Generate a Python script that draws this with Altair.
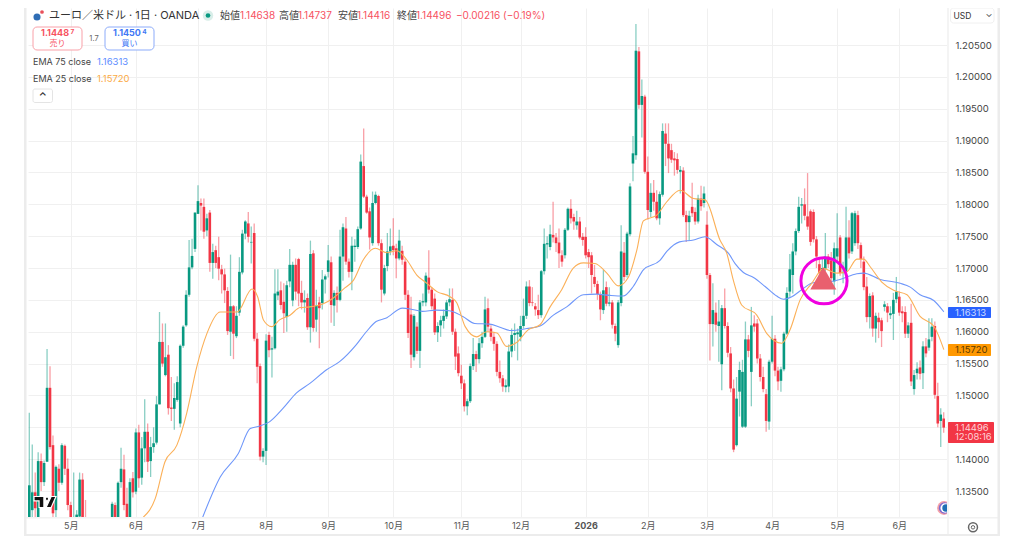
import altair as alt
import pandas as pd

# Daily candles as (open, high, low, close), grouped by calendar month
apr_25 = [
(1.1300,1.1473,1.1290,1.1359),(1.1320,1.1423,1.1305,1.1348),(1.1348,1.1379,1.1300,1.1323),(1.1300,1.1411,1.1295,1.1397),
(1.1397,1.1409,1.1350,1.1364),(1.1364,1.1398,1.1358,1.1394),(1.1396,1.1573,1.1396,1.1512),(1.1512,1.1546,1.1415,1.1419),
(1.1422,1.1437,1.1305,1.1315),(1.1320,1.1390,1.1300,1.1388),(1.1385,1.1392,1.1350,1.1363),(1.1363,1.1425,1.1360,1.1422),
(1.1421,1.1423,1.1375,1.1385),(1.1385,1.1401,1.1320,1.1328)]
may_25 = [
(1.1328,1.1333,1.1295,1.1305),(1.1290,1.1379,1.1285,1.1300),(1.1300,1.1320,1.1290,1.1313),(1.1310,1.1379,1.1305,1.1368),
(1.1368,1.1378,1.1300,1.1305),(1.1300,1.1336,1.1270,1.1280),(1.1280,1.1290,1.1262,1.1270),(1.1270,1.1282,1.1255,1.1262),
(1.1262,1.1280,1.1250,1.1275),(1.1275,1.1288,1.1265,1.1280),(1.1280,1.1288,1.1268,1.1272),(1.1272,1.1285,1.1262,1.1278),
(1.1278,1.1290,1.1270,1.1285),(1.1285,1.1292,1.1272,1.1280),(1.1300,1.1333,1.1290,1.1330),(1.1328,1.1332,1.1290,1.1300),
(1.1300,1.1365,1.1295,1.1363),(1.1364,1.1418,1.1355,1.1385),(1.1384,1.1407,1.1320,1.1328),(1.1330,1.1355,1.1295,1.1305),
(1.1305,1.1370,1.1295,1.1364),(1.1370,1.1380,1.1340,1.1348)]
jun_25 = [
(1.1349,1.1448,1.1345,1.1442),(1.1442,1.1454,1.1355,1.1370),(1.1371,1.1435,1.1360,1.1417),(1.1417,1.1494,1.1395,1.1443),
(1.1443,1.1456,1.1380,1.1396),(1.1397,1.1435,1.1372,1.1419),(1.1419,1.1450,1.1410,1.1425),(1.1426,1.1499,1.1423,1.1486),
(1.1486,1.1631,1.1486,1.1584),(1.1584,1.1613,1.1545,1.1550),(1.1532,1.1613,1.1530,1.1560),(1.1564,1.1579,1.1470,1.1480),
(1.1481,1.1529,1.1460,1.1479),(1.1479,1.1519,1.1446,1.1496),(1.1493,1.1530,1.1490,1.1521),(1.1456,1.1580,1.1450,1.1578),
(1.1578,1.1610,1.1575,1.1608),(1.1610,1.1665,1.1608,1.1658),(1.1658,1.1744,1.1655,1.1701),(1.1701,1.1746,1.1698,1.1719),
(1.1730,1.1787,1.1725,1.1787)]
jul_25 = [
(1.1785,1.1830,1.1785,1.1805),(1.1802,1.1809,1.1759,1.1798),(1.1796,1.1809,1.1746,1.1757),(1.1759,1.1785,1.1750,1.1778),
(1.1787,1.1791,1.1694,1.1708),(1.1708,1.1738,1.1683,1.1725),(1.1728,1.1735,1.1700,1.1708),(1.1717,1.1749,1.1681,1.1699),
(1.1698,1.1705,1.1660,1.1690),(1.1690,1.1699,1.1645,1.1665),(1.1664,1.1670,1.1595,1.1601),(1.1600,1.1721,1.1562,1.1640),
(1.1640,1.1642,1.1557,1.1597),(1.1593,1.1640,1.1590,1.1625),(1.1630,1.1717,1.1625,1.1694),(1.1693,1.1760,1.1690,1.1754),
(1.1754,1.1775,1.1745,1.1773),(1.1770,1.1788,1.1740,1.1749),(1.1740,1.1765,1.1707,1.1741),(1.1755,1.1770,1.1585,1.1589),
(1.1589,1.1598,1.1519,1.1545),(1.1546,1.1550,1.1398,1.1404),(1.1404,1.1417,1.1395,1.1413)]
aug_25 = [
(1.1413,1.1596,1.1391,1.1586),(1.1595,1.1600,1.1560,1.1571),(1.1572,1.1592,1.1528,1.1574),(1.1574,1.1698,1.1572,1.1660),
(1.1657,1.1698,1.1650,1.1663),(1.1665,1.1679,1.1635,1.1642),(1.1647,1.1676,1.1598,1.1629),(1.1623,1.1680,1.1600,1.1673),
(1.1679,1.1730,1.1670,1.1705),(1.1649,1.1710,1.1640,1.1705),(1.1705,1.1715,1.1650,1.1663),(1.1714,1.1716,1.1640,1.1660),
(1.1661,1.1680,1.1635,1.1646),(1.1646,1.1665,1.1630,1.1650),(1.1653,1.1660,1.1603,1.1607),(1.1607,1.1743,1.1583,1.1722),
(1.1723,1.1728,1.1600,1.1606),(1.1619,1.1666,1.1600,1.1641),(1.1646,1.1655,1.1574,1.1637),(1.1645,1.1697,1.1635,1.1682),
(1.1682,1.1690,1.1660,1.1687)]
sep_25 = [
(1.1694,1.1736,1.1685,1.1712),(1.1709,1.1718,1.1614,1.1642),(1.1641,1.1665,1.1609,1.1661),(1.1661,1.1671,1.1630,1.1650),
(1.1650,1.1760,1.1648,1.1718),(1.1718,1.1770,1.1680,1.1764),(1.1762,1.1780,1.1705,1.1710),(1.1710,1.1715,1.1685,1.1694),
(1.1694,1.1749,1.1665,1.1735),(1.1733,1.1745,1.1710,1.1735),(1.1733,1.1765,1.1730,1.1761),(1.1762,1.1878,1.1760,1.1867),
(1.1860,1.1919,1.1810,1.1812),(1.1812,1.1815,1.1785,1.1787),(1.1789,1.1795,1.1729,1.1748),(1.1739,1.1820,1.1735,1.1802),
(1.1802,1.1820,1.1800,1.1815),(1.1813,1.1815,1.1735,1.1739),(1.1739,1.1745,1.1646,1.1666),(1.1660,1.1705,1.1657,1.1700),
(1.1703,1.1755,1.1695,1.1726),(1.1726,1.1762,1.1720,1.1734)]
oct_25 = [
(1.1735,1.1778,1.1720,1.1728),(1.1731,1.1738,1.1684,1.1715),(1.1715,1.1760,1.1712,1.1743),(1.1727,1.1735,1.1705,1.1713),
(1.1710,1.1715,1.1650,1.1658),(1.1658,1.1665,1.1590,1.1598),(1.1627,1.1655,1.1543,1.1564),(1.1560,1.1628,1.1555,1.1625),
(1.1608,1.1615,1.1565,1.1570),(1.1570,1.1650,1.1543,1.1646),(1.1646,1.1660,1.1640,1.1648),(1.1646,1.1693,1.1640,1.1688),
(1.1685,1.1728,1.1660,1.1666),(1.1666,1.1670,1.1635,1.1640),(1.1652,1.1660,1.1595,1.1599),(1.1599,1.1615,1.1584,1.1609),
(1.1610,1.1625,1.1592,1.1618),(1.1617,1.1635,1.1605,1.1625),(1.1624,1.1650,1.1620,1.1646),(1.1646,1.1668,1.1640,1.1651),
(1.1650,1.1668,1.1595,1.1600),(1.1600,1.1605,1.1540,1.1561),(1.1566,1.1577,1.1530,1.1535)]
nov_25 = [
(1.1531,1.1548,1.1510,1.1519),(1.1519,1.1525,1.1475,1.1483),(1.1483,1.1495,1.1469,1.1491),(1.1491,1.1550,1.1488,1.1546),
(1.1546,1.1590,1.1540,1.1565),(1.1565,1.1570,1.1537,1.1557),(1.1557,1.1590,1.1550,1.1582),(1.1582,1.1600,1.1575,1.1592),
(1.1592,1.1655,1.1590,1.1635),(1.1637,1.1652,1.1600,1.1608),(1.1605,1.1610,1.1585,1.1592),(1.1592,1.1600,1.1570,1.1581),
(1.1581,1.1585,1.1530,1.1537),(1.1537,1.1555,1.1520,1.1527),(1.1527,1.1532,1.1506,1.1514),(1.1513,1.1525,1.1505,1.1516),
(1.1514,1.1580,1.1505,1.1569),(1.1569,1.1605,1.1560,1.1595),(1.1595,1.1613,1.1570,1.1598),(1.1596,1.1605,1.1555,1.1599)]
dec_25 = [
(1.1592,1.1625,1.1585,1.1609),(1.1609,1.1652,1.1605,1.1625),(1.1625,1.1679,1.1620,1.1671),(1.1671,1.1681,1.1640,1.1645),
(1.1646,1.1670,1.1640,1.1645),(1.1640,1.1645,1.1625,1.1635),(1.1634,1.1658,1.1620,1.1626),(1.1626,1.1697,1.1622,1.1695),
(1.1695,1.1762,1.1690,1.1738),(1.1737,1.1750,1.1715,1.1739),(1.1733,1.1768,1.1728,1.1753),(1.1752,1.1804,1.1740,1.1748),
(1.1748,1.1755,1.1725,1.1739),(1.1740,1.1762,1.1700,1.1723),(1.1720,1.1728,1.1702,1.1710),(1.1720,1.1763,1.1715,1.1760),
(1.1760,1.1795,1.1758,1.1793),(1.1793,1.1808,1.1770,1.1778),(1.1780,1.1785,1.1760,1.1773),(1.1767,1.1790,1.1760,1.1773),
(1.1773,1.1780,1.1745,1.1748),(1.1749,1.1755,1.1735,1.1744)]
jan_26 = [
(1.1749,1.1764,1.1715,1.1720),(1.1725,1.1730,1.1700,1.1717),(1.1720,1.1725,1.1660,1.1689),(1.1686,1.1705,1.1670,1.1675),
(1.1675,1.1680,1.1650,1.1659),(1.1658,1.1663,1.1618,1.1635),(1.1634,1.1697,1.1628,1.1665),(1.1670,1.1679,1.1640,1.1644),
(1.1644,1.1670,1.1640,1.1646),(1.1646,1.1650,1.1605,1.1611),(1.1609,1.1613,1.1585,1.1597),(1.1579,1.1650,1.1575,1.1646),
(1.1645,1.1767,1.1640,1.1726),(1.1724,1.1741,1.1680,1.1686),(1.1689,1.1757,1.1685,1.1754),(1.1753,1.1833,1.1750,1.1828),
(1.1864,1.1907,1.1836,1.1880),(1.1877,1.2083,1.1870,1.2041),(1.2040,1.2047,1.1950,1.1956),(1.1956,1.1996,1.1905,1.1970),
(1.1969,1.1972,1.1848,1.1851)]
feb_26 = [
(1.1851,1.1875,1.1776,1.1791),(1.1788,1.1833,1.1780,1.1818),(1.1818,1.1838,1.1790,1.1804),(1.1804,1.1822,1.1775,1.1778),
(1.1778,1.1820,1.1768,1.1816),(1.1815,1.1927,1.1812,1.1915),(1.1911,1.1927,1.1860,1.1895),(1.1895,1.1927,1.1849,1.1872),
(1.1885,1.1895,1.1865,1.1870),(1.1872,1.1882,1.1845,1.1869),(1.1871,1.1880,1.1848,1.1854),(1.1851,1.1860,1.1817,1.1854),
(1.1853,1.1858,1.1780,1.1783),(1.1783,1.1790,1.1741,1.1772),(1.1772,1.1790,1.1743,1.1782),(1.1796,1.1834,1.1780,1.1786),
(1.1788,1.1795,1.1768,1.1773),(1.1773,1.1815,1.1770,1.1809),(1.1809,1.1829,1.1790,1.1797),(1.1802,1.1828,1.1795,1.1817)]
mar_26 = [
(1.1768,1.1789,1.1683,1.1689),(1.1689,1.1692,1.1555,1.1612),(1.1612,1.1676,1.1577,1.1634),(1.1630,1.1646,1.1600,1.1611),
(1.1609,1.1650,1.1553,1.1616),(1.1549,1.1642,1.1508,1.1637),(1.1637,1.1668,1.1605,1.1609),(1.1609,1.1615,1.1560,1.1567),
(1.1566,1.1576,1.1505,1.1511),(1.1511,1.1525,1.1411,1.1415),(1.1422,1.1529,1.1420,1.1495),(1.1506,1.1553,1.1467,1.1540),
(1.1451,1.1556,1.1449,1.1537),(1.1451,1.1616,1.1449,1.1588),(1.1588,1.1595,1.1560,1.1570),(1.1537,1.1639,1.1483,1.1610),
(1.1613,1.1626,1.1600,1.1608),(1.1613,1.1620,1.1550,1.1558),(1.1558,1.1565,1.1522,1.1529),(1.1529,1.1545,1.1505,1.1510),
(1.1502,1.1510,1.1443,1.1460),(1.1459,1.1556,1.1446,1.1553)]
apr_26 = [
(1.1553,1.1625,1.1550,1.1589),(1.1589,1.1595,1.1530,1.1539),(1.1539,1.1545,1.1508,1.1522),(1.1523,1.1545,1.1506,1.1541),
(1.1541,1.1600,1.1538,1.1597),(1.1597,1.1670,1.1595,1.1661),(1.1663,1.1722,1.1655,1.1698),(1.1689,1.1739,1.1660,1.1726),
(1.1726,1.1762,1.1720,1.1758),(1.1758,1.1812,1.1755,1.1796),(1.1798,1.1810,1.1770,1.1800),(1.1800,1.1825,1.1775,1.1782),
(1.1781,1.1849,1.1760,1.1765),(1.1789,1.1792,1.1735,1.1741),(1.1788,1.1792,1.1740,1.1745),(1.1745,1.1750,1.1700,1.1718),
(1.1706,1.1715,1.1680,1.1692),(1.1692,1.1715,1.1680,1.1700),(1.1699,1.1755,1.1695,1.1718),(1.1718,1.1722,1.1700,1.1706),
(1.1712,1.1725,1.1670,1.1684),(1.1679,1.1740,1.1658,1.1731)]
may_26 = [
(1.1718,1.1786,1.1710,1.1731),(1.1748,1.1752,1.1688,1.1692),(1.1692,1.1710,1.1676,1.1694),(1.1694,1.1796,1.1690,1.1748),
(1.1748,1.1775,1.1715,1.1723),(1.1726,1.1788,1.1722,1.1786),(1.1739,1.1790,1.1735,1.1786),(1.1783,1.1790,1.1730,1.1739),
(1.1736,1.1740,1.1700,1.1714),(1.1710,1.1718,1.1665,1.1670),(1.1671,1.1686,1.1615,1.1623),(1.1623,1.1660,1.1605,1.1656),
(1.1657,1.1662,1.1592,1.1605),(1.1605,1.1630,1.1583,1.1625),(1.1622,1.1630,1.1590,1.1615),(1.1618,1.1622,1.1576,1.1601),
(1.1639,1.1648,1.1632,1.1643),(1.1640,1.1645,1.1615,1.1630),(1.1626,1.1640,1.1620,1.1629),(1.1628,1.1661,1.1587,1.1650),
(1.1651,1.1686,1.1645,1.1663)]
jun_26 = [
(1.1655,1.1663,1.1625,1.1630),(1.1632,1.1640,1.1615,1.1629),(1.1631,1.1640,1.1590,1.1597),(1.1597,1.1615,1.1590,1.1610),
(1.1614,1.1644,1.1515,1.1522),(1.1510,1.1540,1.1501,1.1532),(1.1535,1.1552,1.1525,1.1542),(1.1544,1.1555,1.1525,1.1534),
(1.1535,1.1585,1.1510,1.1577),(1.1577,1.1590,1.1560,1.1566),(1.1575,1.1621,1.1570,1.1588),(1.1592,1.1621,1.1585,1.1608),
(1.1609,1.1616,1.1495,1.1501),(1.1499,1.1520,1.1450,1.1456),(1.1460,1.1480,1.1419,1.1470),(1.14638,1.14737,1.14416,1.14496)]

# EMA readings: session position, value
ema75_pos = [58.4,64.3,70.4,74.4,77.6,81,85.5,90,94.5,100,104.5,110,113.5,116.8,120,125.7,129,132.4,137,141.5,146,150,155,158.5,161.9,167.5,172,176.5,181,186.6,191,195.6,200,203.4,206.8,212.4,214.7,219,223.7,227.6,231.5,235.5,237.7,240.5,243.9,247.8,251.7,254,256.8,260.7,264,268.6,273,278.7,281,286.6,293.3,296.7,300,304.6,308]
ema75_val = [1.1309,1.1372,1.1409,1.1448,1.1452,1.1459,1.1480,1.1504,1.1519,1.1540,1.1553,1.1579,1.1600,1.1616,1.1621,1.1637,1.1635,1.1632,1.1634,1.1633,1.1624,1.1613,1.1612,1.1607,1.1602,1.1605,1.1609,1.1626,1.1639,1.1658,1.1659,1.1657,1.1656,1.1671,1.1697,1.1712,1.1726,1.1741,1.1744,1.1749,1.1737,1.1723,1.1707,1.1693,1.1685,1.1671,1.1656,1.1651,1.1655,1.1668,1.1677,1.1678,1.1682,1.1691,1.1692,1.1682,1.1676,1.1670,1.1658,1.1649,1.16313]
ema25_pos = [38.4,42.4,45.7,49.7,53,56.4,59.8,64.3,70,75,76.9,78.9,81.6,84.4,87.8,91.2,94.5,99,102.4,105.8,109.2,112.5,116.5,120.4,123.8,127.1,130.5,133.9,137.3,141.7,144,146.8,150.7,154,157.5,160.7,164.1,168,172,175.4,179.3,183.2,186.6,190.5,194.5,198.4,201.8,204.6,206.8,211.3,214.7,219.2,223.7,227.6,232.6,234.9,237.1,239.9,245,248.4,253.4,256.2,259.6,263.5,267.5,272,275.3,278.7,281,283.2,287.1,291.1,295.6,300,304.6,308]
ema25_val = [1.1309,1.1338,1.1396,1.1422,1.1472,1.1545,1.1597,1.1631,1.1631,1.1667,1.1655,1.1618,1.1608,1.1619,1.1626,1.1638,1.1639,1.1644,1.1653,1.1667,1.1681,1.1713,1.1731,1.1724,1.1727,1.1713,1.1689,1.1676,1.1663,1.1655,1.1645,1.1608,1.1592,1.1600,1.1598,1.1577,1.1583,1.1603,1.1611,1.1639,1.1666,1.1700,1.1708,1.1707,1.1692,1.1672,1.1686,1.1728,1.1774,1.1783,1.1804,1.1822,1.1809,1.1807,1.1744,1.1723,1.1681,1.1642,1.1626,1.1597,1.1582,1.1603,1.1650,1.1676,1.1699,1.1692,1.1694,1.1714,1.1714,1.1702,1.1678,1.1665,1.1658,1.1624,1.1609,1.15720]

month_ticks = [14,36,57,80,101,123,146,166,188,209,229,251,273,294]
month_names = ["5月","6月","7月","8月","9月","10月","11月","12月","2026","2月","3月","4月","5月","6月"]
price_ticks = [1.135,1.14,1.145,1.15,1.155,1.16,1.165,1.17,1.175,1.18,1.185,1.19,1.195,1.20,1.205]

GREEN, RED, GRID = "#089981", "#f23645", "#f0f0f0"
FONT = "Inter, Noto Sans CJK JP, sans-serif"
OX, OY = 28, 8
PLOT_W, PLOT_H = 920, 509

rows = apr_25+may_25+jun_25+jul_25+aug_25+sep_25+oct_25+nov_25+dec_25+jan_26+feb_26+mar_26+apr_26+may_26+jun_26
df = pd.DataFrame(rows, columns=["o","h","l","c"])
df["i"] = range(len(df))
df["dir"] = ["up" if c >= o else "down" for o, c in zip(df.o, df.c)]
last = len(df) - 1
step = (943.7 - 29.3) / last
xdom = [-(29.3 - OX) / step, last + (OX + PLOT_W - 943.7) / step]
ydom = [1.205 - (OY + PLOT_H - 45) / 31.86 * 0.005, 1.205 + (45 - OY) / 31.86 * 0.005]
xs = alt.Scale(domain=xdom, nice=False, zero=False)
ys = alt.Scale(domain=ydom, nice=False, zero=False)
cs = alt.Scale(domain=["up","down"], range=[GREEN, RED])
ema75 = pd.DataFrame({"i":[p*1.0034 for p in ema75_pos],"v":ema75_val})
ema25 = pd.DataFrame({"i":[p*1.0034 for p in ema25_pos],"v":ema25_val})

label_expr = "{" + ",".join(f"'{t}':'{n}'" for t, n in zip(month_ticks, month_names)) + "}[datum.value]"
xaxis = alt.Axis(values=month_ticks, labelExpr=label_expr, title=None, domain=False, ticks=False, grid=True,
                 gridColor=GRID, labelFont=FONT, labelFontSize=9, labelColor="#555555", labelPadding=4,
                 labelFontWeight=alt.expr("datum.value == 188 ? 'bold' : 'normal'"), labelOverlap=False)
yaxis = alt.Axis(values=price_ticks, orient="right", format=".5f", title=None, domain=False, ticks=False, grid=True,
                 gridColor=GRID, labelFont=FONT, labelFontSize=9.5, labelColor="#444444", labelPadding=7,
                 labelOverlap=False, labelBound=False, labelFlush=False)

one = pd.DataFrame({"a":[0]})

def box(x0, y0, x1, y1, **kw):
    return alt.Chart(one).mark_rect(**kw).encode(x=alt.value(x0-OX), x2=alt.value(x1-OX), y=alt.value(y0-OY), y2=alt.value(y1-OY))

def txt(s, x, y, color="#333333", size=9.5, weight="normal", align="left"):
    return alt.Chart(one).mark_text(text=s, font=FONT, fontSize=size, fontWeight=weight, align=align, baseline="middle", color=color).encode(
        x=alt.value(x-OX), y=alt.value(y-OY))

def dot(x, y, size, **kw):
    return alt.Chart(one).mark_point(size=size, **kw).encode(x=alt.value(x-OX), y=alt.value(y-OY))

X = alt.X("i:Q", scale=xs, axis=xaxis)
wicks = alt.Chart(df).mark_rule(strokeWidth=1.3, opacity=0.48, clip=True).encode(
    x=X, y=alt.Y("l:Q", scale=ys, axis=yaxis), y2="h:Q",
    color=alt.Color("dir:N", scale=cs, legend=None))
bodies = alt.Chart(df).mark_rule(strokeWidth=2.6, clip=True).encode(
    x=X, y=alt.Y("o:Q", scale=ys, axis=yaxis), y2="c:Q",
    color=alt.Color("dir:N", scale=cs, legend=None))

blue_line = alt.Chart(ema75).mark_line(color="#6f97fa", strokeWidth=1.1, clip=True, interpolate="monotone").encode(
    x=X, y=alt.Y("v:Q", scale=ys, axis=yaxis))
orange_line = alt.Chart(ema25).mark_line(color="#fbb058", strokeWidth=1.1, clip=True, interpolate="monotone").encode(
    x=X, y=alt.Y("v:Q", scale=ys, axis=yaxis))

marker = pd.DataFrame({"i":[(823.3-29.3)/step],"v":[1.1684],"r":[(824-29.3)/step],"w":[1.1680]})
triangle = alt.Chart(marker).mark_point(shape="triangle-up", filled=True, size=680, color="#e9606e", opacity=1).encode(
    x=X, y=alt.Y("v:Q", scale=ys, axis=yaxis))
ring = alt.Chart(marker).mark_point(shape="circle", filled=False, size=2130, color="#f000e0", strokeWidth=3, opacity=1).encode(
    x=alt.X("r:Q", scale=xs, axis=xaxis), y=alt.Y("w:Q", scale=ys, axis=yaxis))

LOGO = "M-.5,-.25L-.05,-.25L-.05,.25L-.27,.25L-.27,-.05L-.5,-.05ZM.02,-.22L.16,-.22L.16,-.08L.02,-.08ZM.28,-.25L.5,-.25L.28,.25L.05,.25Z"

chrome = [
    box(947, 8, 949, 536, color="#f4f4f4"),
    box(26, 517, 998, 518.5, color="#f2f2f2"),
    box(24, 8, 26.5, 536, color="#ececec"),
    box(997.5, 8, 1000, 536, color="#ececec"),
    box(24, 534, 1000, 536, color="#ececec"),
    # header
    dot(37, 17, 50, filled=True, color="#2f6db5", opacity=1),
    dot(42, 12, 14, filled=True, color="#e8505b", opacity=1),
    txt("ユーロ／米ドル · 1日 · OANDA", 49, 15.5, "#333333", 11),
    dot(208, 15.5, 110, filled=True, color="#d9eee9", opacity=1),
    dot(208, 15.5, 22, filled=True, color=GREEN, opacity=1),
    txt("始値", 220, 15.5, "#444444", 10), txt("1.14638", 240, 15.5, "#f7525f", 10),
    txt("高値", 279, 15.5, "#444444", 10), txt("1.14737", 298, 15.5, "#f7525f", 10),
    txt("安値", 338, 15.5, "#444444", 10), txt("1.14416", 357, 15.5, "#f7525f", 10),
    txt("終値", 397, 15.5, "#444444", 10), txt("1.14496", 416, 15.5, "#f7525f", 10),
    txt("−0.00216 (−0.19%)", 456, 15.5, "#f7525f", 10),
    # sell / buy
    box(33, 27, 82, 50, fill="#ffffff", stroke="#f9a0a8", strokeWidth=1, cornerRadius=4),
    txt("1.1448", 55, 33, "#f7525f", 9, "bold", "center"), txt("7", 72.5, 31.5, "#f7525f", 6.5, "bold", "center"),
    txt("売り", 57.5, 43.5, "#f7525f", 8, "normal", "center"),
    txt("1.7", 94, 38.5, "#666666", 7.5, "normal", "center"),
    box(105, 27, 154, 50, fill="#ffffff", stroke="#8cabfa", strokeWidth=1, cornerRadius=4),
    txt("1.1450", 127, 33, "#3f78f5", 9, "bold", "center"), txt("4", 144.5, 31.5, "#3f78f5", 6.5, "bold", "center"),
    txt("買い", 129.5, 43.5, "#3f78f5", 8, "normal", "center"),
    txt("EMA 75 close", 33, 62, "#444444", 9), txt("1.16313", 97, 62, "#5b8cff", 9.5),
    txt("EMA 25 close", 33, 78.5, "#444444", 9), txt("1.15720", 97, 78.5, "#fbaa45", 9.5),
    box(33, 89, 52.5, 102.5, fill="#ffffff", stroke="#e4e4e4", strokeWidth=1, cornerRadius=2),
    txt("⌃", 42.7, 97, "#333333", 10, "bold", "center"),
    # USD
    box(950.5, 8, 994, 23, fill="#ffffff", stroke="#f0f0f0", strokeWidth=1, cornerRadius=3),
    txt("USD", 953.5, 15.5, "#333333", 8.5),
    txt("⌄", 989, 14, "#444444", 9, "normal", "center"),
    # price labels
    box(948, 307, 991, 318, color="#2962ff", cornerRadius=1),
    txt("1.16313", 955, 312.5, "#cfdcff", 9.5),
    box(948, 344, 991, 356, color="#ff9800", cornerRadius=1),
    txt("1.15720", 955, 350, "#5a3a00", 9.5),
    box(948, 422, 994, 443, color="#f23645", cornerRadius=1),
    txt("1.14496", 955, 428, "#ffd3d7", 9.5),
    txt("12:08:16", 955, 437, "#ffd3d7", 9.5),
    # logos
    alt.Chart(one).mark_point(shape=LOGO, filled=True, size=1936, color="#111111", stroke="#ffffff", strokeWidth=1.2, opacity=1).encode(
        x=alt.value(45-OX), y=alt.value(502-OY)),
    dot(944, 508, 190, filled=True, color="#f4a0a8", opacity=1),
    dot(944.5, 508, 130, filled=True, color="#7d6bd0", opacity=1),
    dot(945.2, 508, 90, filled=True, color="#ffffff", opacity=1),
    dot(946, 508, 55, filled=True, color="#1f6fb5", opacity=1),
    box(947, 498, 960, 516, color="#ffffff"),
    box(947, 498, 949, 516, color="#f4f4f4"),
    # gear
    dot(973, 527.3, 80, shape="circle", filled=False, color="#666666", strokeWidth=1.5, opacity=1),
    dot(973, 527.3, 12, shape="circle", filled=False, color="#666666", strokeWidth=1, opacity=1),
]

chart = alt.layer(wicks, bodies, blue_line, orange_line, triangle, ring, *chrome).properties(
    width=PLOT_W, height=PLOT_H,
    padding={"left":20,"top":0,"right":68,"bottom":19},
    autosize=alt.AutoSizeParams(type="none"),
    background="#ffffff",
).configure_view(stroke=None)

chart.save("out.html", embed_options={"renderer": "svg", "actions": False})
